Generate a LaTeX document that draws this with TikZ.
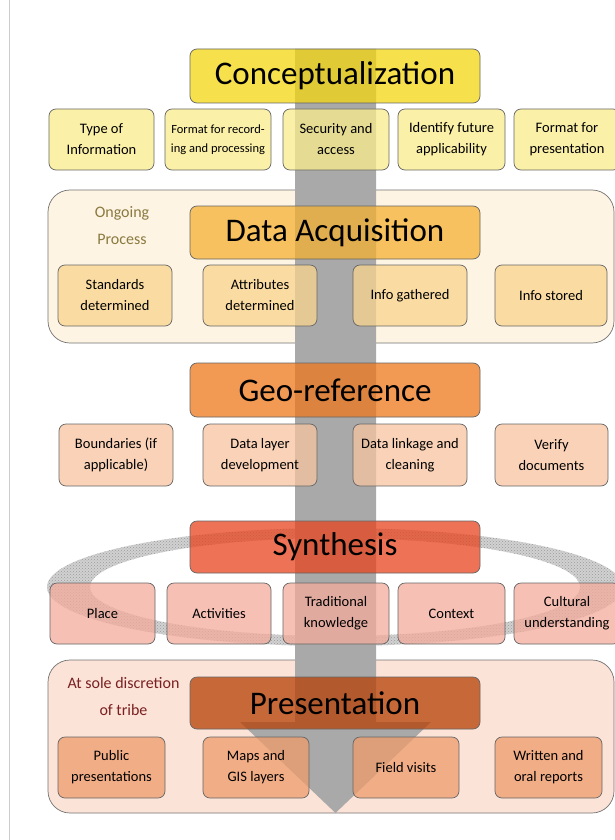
\documentclass[tikz,border=0pt]{standalone}
\usepackage{fontspec}
\setmainfont{Carlito}
\usetikzlibrary{patterns}
\definecolor{cMain}{HTML}{F3D60F}
\definecolor{cSub}{HTML}{FAEC8C}
\definecolor{dCont}{HTML}{FDF4E3}
\definecolor{dMain}{HTML}{F4B132}
\definecolor{dSub}{HTML}{FAD58E}
\definecolor{gMain}{HTML}{EE781C}
\definecolor{gSub}{HTML}{F7C4A0}
\definecolor{sMain}{HTML}{E8441E}
\definecolor{sSub}{HTML}{F3AB9C}
\definecolor{pCont}{HTML}{FBE3D8}
\definecolor{pMain}{HTML}{B64005}
\definecolor{pSub}{HTML}{EE9C6B}
\definecolor{arrowgray}{HTML}{A9A9A9}
\definecolor{olivetxt}{HTML}{8A7A40}
\definecolor{redtxt}{HTML}{7A2020}
\begin{document}
\begin{tikzpicture}[x=1pt,y=-1pt,
  box/.style={draw=black!60, line width=0.7pt, rounded corners=7pt, inner sep=0pt, align=center, fill opacity=0.75, text opacity=1, draw opacity=1},
  mainbox/.style={box, minimum width=290pt, font=\fontsize{33}{38}\selectfont},
  subbox/.style={box, minimum height=61pt, font=\fontsize{14.5}{21}\selectfont},
  container/.style={draw=black!55, line width=0.7pt, rounded corners=22pt},
  sidelabel/.style={align=center, font=\fontsize{16}{27}\selectfont},
  ring/.style={even odd rule}]
\useasboundingbox (0,0) rectangle (615,840);
\clip (0,0) rectangle (615,840);
\fill[white] (0,0) rectangle (615,840);
\draw[black!20, line width=1pt] (9.5,0) -- (9.5,840);

% containers
\draw[container, fill=dCont] (48,190) rectangle (614,343);
\draw[container, fill=pCont] (48,660) rectangle (614,813);

% synthesis ring
\fill[black!18, ring] (335,587) ellipse [x radius=288pt, y radius=59pt] (335,587) ellipse [x radius=245pt, y radius=49pt];
\fill[pattern=crosshatch dots, pattern color=black!40, ring] (335,587) ellipse [x radius=288pt, y radius=59pt] (335,587) ellipse [x radius=245pt, y radius=49pt];

% big process arrow (behind the translucent boxes)
\fill[arrowgray] (295,49) -- (376,49) -- (376,722) -- (431,722) -- (335.5,813) -- (240,722) -- (295,722) -- cycle;

% side labels
\node[sidelabel, text=olivetxt] (ongoing) at (122,225.5) {Ongoing\\Process};
\node[sidelabel, text=redtxt] (discretion) at (123.5,696.5) {At sole discretion\\of tribe};

% main boxes
\node[mainbox, fill=cMain, minimum height=54pt] (concept) at (335,76) {Conceptualization};
\node[mainbox, fill=dMain, minimum height=53pt] (acq) at (335,232.5) {Data Acquisition};
\node[mainbox, fill=gMain, minimum height=54pt] (geo) at (335,390) {Geo-reference};
\node[mainbox, fill=sMain, minimum height=52pt] (syn) at (335,547) {Synthesis};
\node[mainbox, fill=pMain, minimum height=52pt] (pres) at (335,703) {Presentation};

% conceptualization row
\node[subbox, fill=cSub, minimum width=105pt] (c1) at (101.5,139.5) {Type of\\Information};
\node[subbox, fill=cSub, minimum width=106pt, font=\fontsize{12.5}{19}\selectfont] (c2) at (218,139.5) {Format for record-\\ing and processing};
\node[subbox, fill=cSub, minimum width=106pt] (c3) at (336,139.5) {Security and\\access};
\node[subbox, fill=cSub, minimum width=107pt] (c4) at (451.5,139.5) {Identify future\\applicability};
\node[subbox, fill=cSub, minimum width=106pt] (c5) at (567,139.5) {Format for\\presentation};

% data acquisition row
\node[subbox, fill=dSub, minimum width=114pt] (d1) at (115,295.5) {Standards\\determined};
\node[subbox, fill=dSub, minimum width=114pt] (d2) at (260,295.5) {Attributes\\determined};
\node[subbox, fill=dSub, minimum width=114pt] (d3) at (410,295.5) {Info gathered};
\node[subbox, fill=dSub, minimum width=112pt] (d4) at (551,295.5) {Info stored};

% geo-reference row
\node[subbox, fill=gSub, minimum width=114pt, minimum height=62pt] (g1) at (116,455) {Boundaries (if\\applicable)};
\node[subbox, fill=gSub, minimum width=114pt, minimum height=62pt] (g2) at (260,455) {Data layer\\development};
\node[subbox, fill=gSub, minimum width=114pt, minimum height=62pt] (g3) at (410,455) {Data linkage and\\cleaning};
\node[subbox, fill=gSub, minimum width=113pt, minimum height=62pt] (g4) at (551.5,455) {Verify\\documents};

% synthesis row
\node[subbox, fill=sSub, minimum width=105pt] (s1) at (102.5,613.5) {Place};
\node[subbox, fill=sSub, minimum width=104pt] (s2) at (219,613.5) {Activities};
\node[subbox, fill=sSub, minimum width=106pt] (s3) at (336,613.5) {Traditional\\knowledge};
\node[subbox, fill=sSub, minimum width=107pt] (s4) at (451.5,613.5) {Context};
\node[subbox, fill=sSub, minimum width=106pt] (s5) at (567,613.5) {Cultural\\understanding};

% presentation row
\node[subbox, fill=pSub, minimum width=107pt] (p1) at (111.5,767.5) {Public\\presentations};
\node[subbox, fill=pSub, minimum width=106pt] (p2) at (256,767.5) {Maps and\\GIS layers};
\node[subbox, fill=pSub, minimum width=106pt] (p3) at (406,767.5) {Field visits};
\node[subbox, fill=pSub, minimum width=107pt] (p4) at (548.5,767.5) {Written and\\oral reports};
\end{tikzpicture}
\end{document}
